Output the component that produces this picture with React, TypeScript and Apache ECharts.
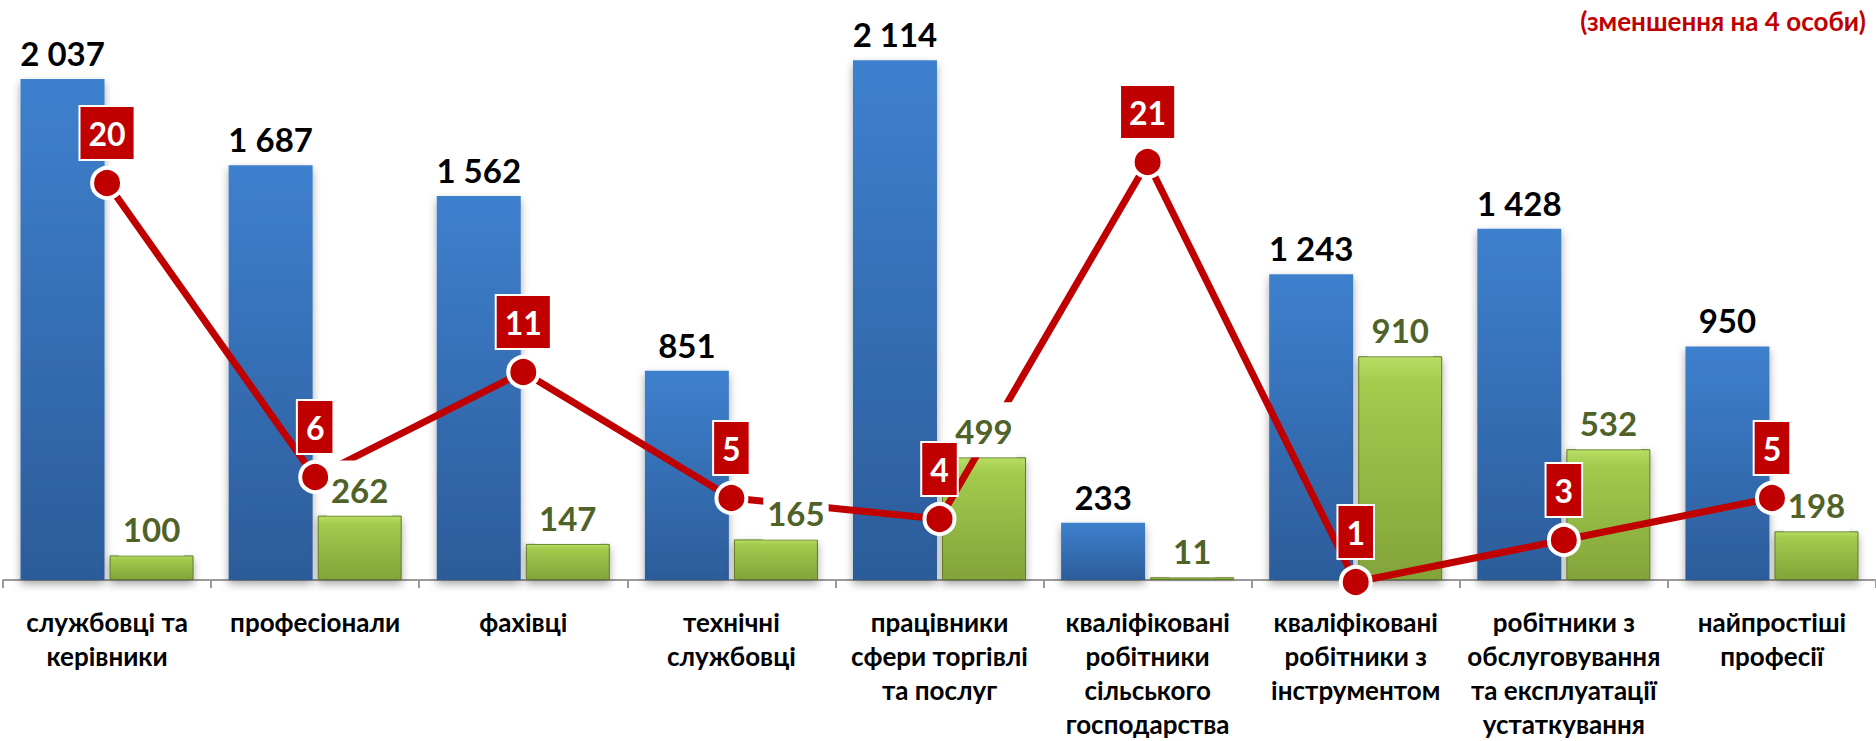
import React, { useEffect, useRef } from "react";
import * as echarts from "echarts";

const categories = [
  "службовці та\nкерівники",
  "професіонали",
  "фахівці",
  "технічні\nслужбовці",
  "працівники\nсфери торгівлі\nта послуг",
  "кваліфіковані\nробітники\nсільського\nгосподарства",
  "кваліфіковані\nробітники з\nінструментом",
  "робітники з\nобслуговування\nта експлуатації\nустаткування",
  "найпростіші\nпрофесії",
];
const blueValues = [2037, 1687, 1562, 851, 2114, 233, 1243, 1428, 950];
const greenValues = [100, 262, 147, 165, 499, 11, 910, 532, 198];
const lineValues = [20, 6, 11, 5, 4, 21, 1, 3, 5];
const subtitle = "(зменшення на 4 особи)";

const FONT = "Lato, 'Open Sans', sans-serif";
const RED = "#C00000";
const OLIVE = "#4F6228";

const fmt = (v: number) => String(v).replace(/\B(?=(\d{3})+(?!\d))/g, " ");

export default function App() {
  const ref = useRef<HTMLDivElement>(null);
  useEffect(() => {
    if (!ref.current) return;
    const chart = echarts.init(ref.current, undefined, { renderer: "svg" });
    const greenLabelOffsets: Record<number, number[]> = { 3: [20, 0] };
    const valueLabel = {
      show: true,
      position: "top" as const,
      distance: 0,
      fontFamily: FONT,
      fontWeight: "bold" as const,
      fontSize: 33,
      lineHeight: 32,
      padding: [13, 6, 10, 6],
    };
    const option: any = {
      animation: false,
      backgroundColor: "#ffffff",
      grid: { left: 3, top: 39, width: 1877, height: 541, containLabel: false },
      graphic: [
        {
          type: "text",
          x: 1866,
          y: 6,
          z: 100,
          style: {
            text: subtitle,
            align: "right",
            verticalAlign: "top",
            fontFamily: FONT,
            fontWeight: "bold",
            fontSize: 26,
            lineHeight: 30,
            fill: RED,
          },
        },
      ],
      xAxis: [
        {
          type: "category",
          data: categories,
          axisLine: { show: true, lineStyle: { color: "#9A9A9A", width: 2 } },
          axisTick: { show: true, length: 8, lineStyle: { color: "#9A9A9A", width: 2 } },
          axisLabel: {
            interval: 0,
            margin: 25,
            color: "#000",
            fontFamily: FONT,
            fontWeight: "bold",
            fontSize: 26,
            lineHeight: 34,
          },
          splitLine: { show: false },
        },
        {
          type: "category",
          data: categories,
          show: false,
          gridIndex: 0,
        },
      ],
      yAxis: [
        { type: "value", min: 0, max: 2200, show: false, splitLine: { show: false } },
        {
          type: "value",
          min: 23 / 21,
          max: 23 / 21 + 541 / 21,
          show: false,
          splitLine: { show: false },
        },
      ],
      series: [
        {
          name: "blue",
          type: "bar",
          xAxisIndex: 0,
          yAxisIndex: 0,
          data: blueValues,
          barWidth: 84,
          barGap: "6%",
          z: 2,
          itemStyle: {
            color: new echarts.graphic.LinearGradient(0, 0, 0, 1, [
              { offset: 0, color: "#3E80CE" },
              { offset: 1, color: "#2C5C9A" },
            ]),
            shadowColor: "rgba(0,0,0,0.35)",
            shadowBlur: 8,
            shadowOffsetY: 4,
          },
        },
        {
          name: "green",
          type: "bar",
          xAxisIndex: 0,
          yAxisIndex: 0,
          data: greenValues,
          barWidth: 84,
          barGap: "6%",
          z: 2,
          itemStyle: {
            color: new echarts.graphic.LinearGradient(0, 0, 0, 1, [
              { offset: 0, color: "#B8DE64" },
              { offset: 0.12, color: "#A3CB4D" },
              { offset: 1, color: "#82A43A" },
            ]),
            borderColor: "#5F7B27",
            borderWidth: 1,
            shadowColor: "rgba(0,0,0,0.35)",
            shadowBlur: 8,
            shadowOffsetY: 4,
          },
        },
        {
          name: "line",
          type: "line",
          xAxisIndex: 0,
          yAxisIndex: 1,
          data: lineValues,
          symbol: "none",
          clip: false,
          z: 5,
          lineStyle: { color: RED, width: 7 },
        },
        {
          name: "blueLabels",
          type: "bar",
          xAxisIndex: 1,
          yAxisIndex: 0,
          data: blueValues,
          barWidth: 84,
          barGap: "6%",
          z: 10,
          silent: true,
          itemStyle: { color: "rgba(0,0,0,0)" },
          label: { ...valueLabel, color: "#000", formatter: (p: any) => fmt(p.value) },
        },
        {
          name: "greenLabels",
          type: "bar",
          xAxisIndex: 1,
          yAxisIndex: 0,
          data: greenValues.map((v, i) =>
            greenLabelOffsets[i] ? { value: v, label: { offset: greenLabelOffsets[i] } } : v
          ),
          barWidth: 84,
          barGap: "6%",
          z: 10,
          silent: true,
          itemStyle: { color: "rgba(0,0,0,0)" },
          label: {
            ...valueLabel,
            color: OLIVE,
            backgroundColor: "#ffffff",
            padding: [13, 4, 10, 4],
            formatter: (p: any) => fmt(p.value),
          },
        },
        {
          name: "markers",
          type: "scatter",
          xAxisIndex: 0,
          yAxisIndex: 1,
          data: lineValues,
          symbol: "circle",
          symbolSize: 30,
          clip: false,
          z: 20,
          itemStyle: { color: RED, borderColor: "#ffffff", borderWidth: 4, opacity: 1 },
          label: {
            show: true,
            position: "top",
            distance: 7,
            color: "#ffffff",
            fontFamily: FONT,
            fontWeight: "bold",
            fontSize: 32,
            lineHeight: 36,
            backgroundColor: RED,
            borderColor: "#ffffff",
            borderWidth: 2,
            padding: [8, 8],
          },
        },
      ],
    };
    chart.setOption(option);
    return () => chart.dispose();
  }, []);
  return (
    <div
      ref={ref}
      style={{ position: "fixed", left: 0, top: 0, width: 1876, height: 741, background: "#fff" }}
    />
  );
}
